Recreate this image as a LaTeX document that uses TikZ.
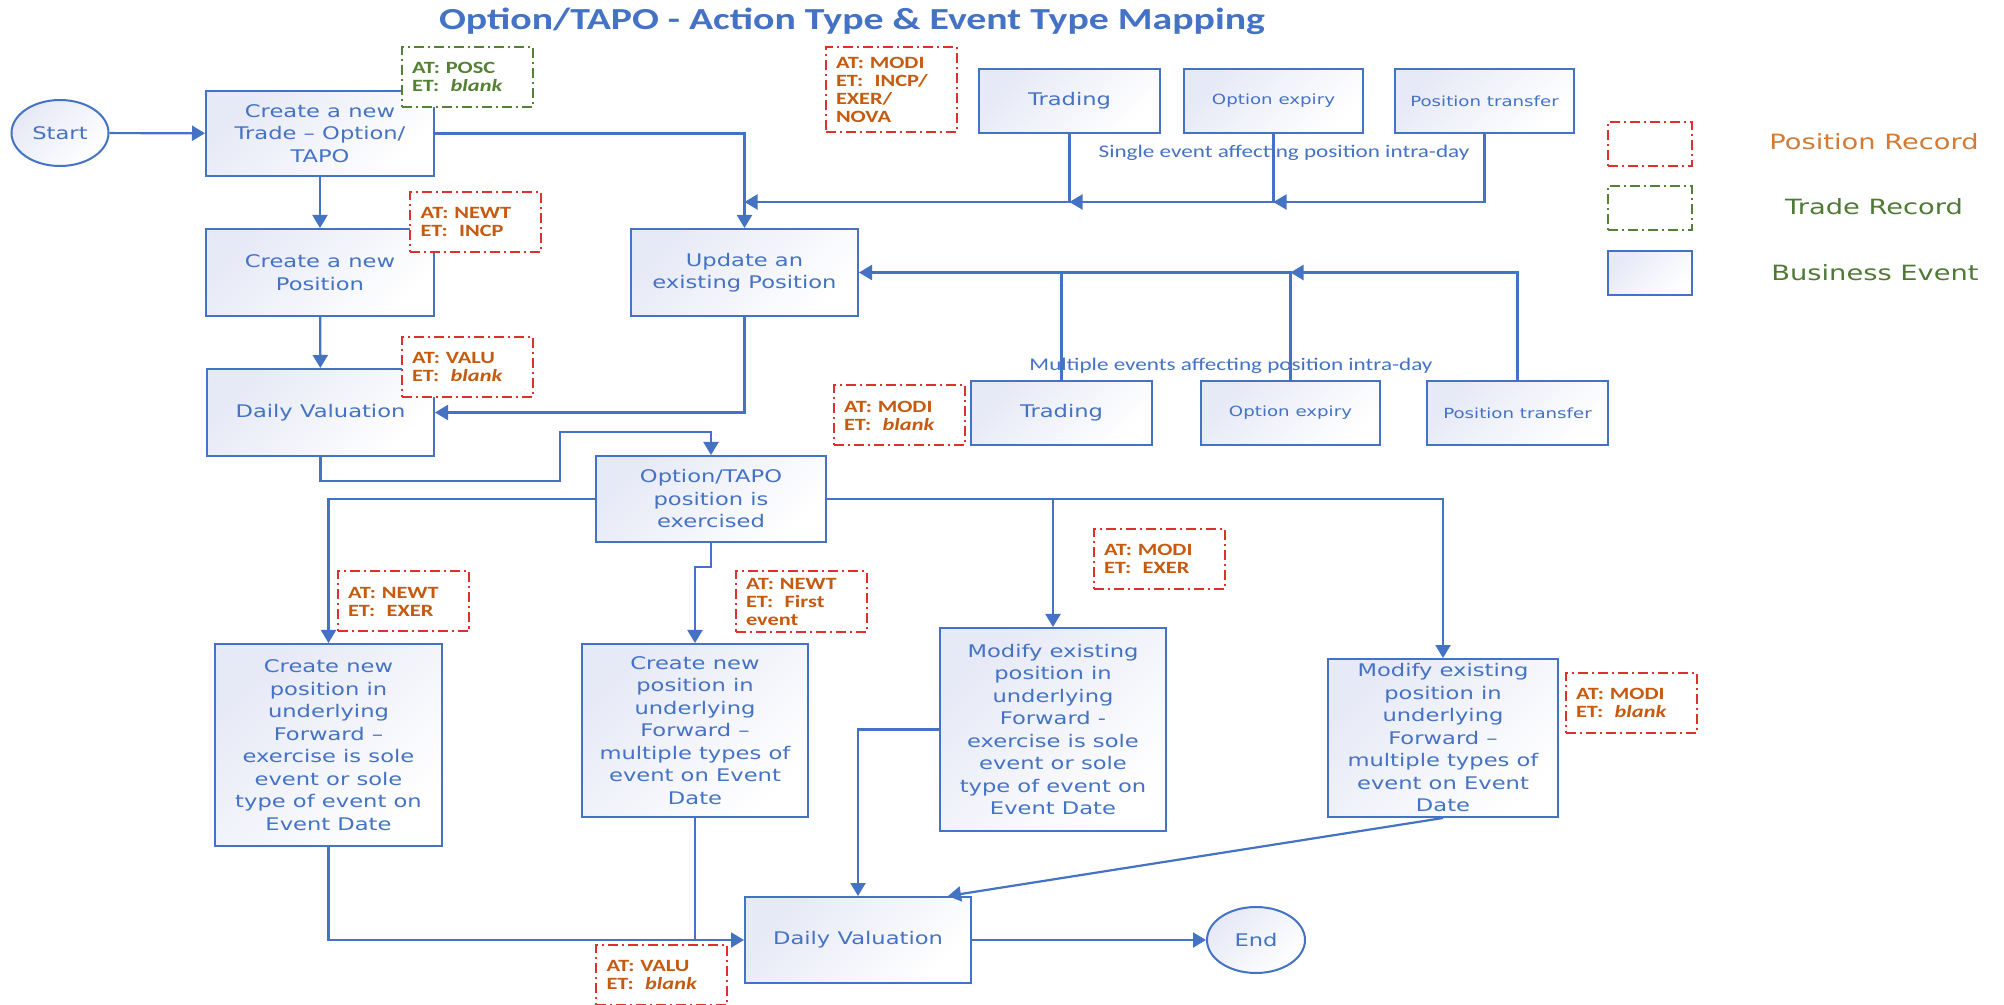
\documentclass[tikz,border=0pt]{standalone}
\usepackage{fontspec}
\usetikzlibrary{arrows.meta,shapes.geometric}
\newfontfamily\verd[FakeStretch=1.3]{DejaVu Sans}
\newfontfamily\calib[FakeStretch=1.3]{Carlito}
\definecolor{evblue}{HTML}{4472C4}
\definecolor{evfill}{HTML}{E6E9F6}
\definecolor{recred}{HTML}{E0302C}
\definecolor{recorange}{HTML}{C55A11}
\definecolor{legorange}{HTML}{D27A36}
\definecolor{recgreen}{HTML}{548235}
\definecolor{leggreen}{HTML}{4E7A35}

\begin{document}
\begin{tikzpicture}[x=0.5pt,y=-0.5pt,
  event/.style={draw=evblue,line width=1pt,top color=evfill,bottom color=white,
    shading angle=45,text=evblue,font=\verd\fontsize{8.7}{11.25}\selectfont,
    align=center,inner sep=1pt},
  smallev/.style={event,font=\verd\fontsize{7}{9}\selectfont},
  terminal/.style={event,ellipse,minimum width=48.5pt,minimum height=33pt},
  posrec/.style={draw=recred,fill=white,line width=1pt,
    dash pattern=on 5pt off 2pt on 1pt off 2pt,text=recorange,
    font=\calib\bfseries\fontsize{8.6}{9}\selectfont,align=left,
    text width=55pt,inner xsep=5.25pt,minimum height=30pt},
  traderec/.style={posrec,draw=recgreen,text=recgreen},
  arr/.style={draw=evblue,line width=1.1pt,-{Triangle[length=6.5pt,width=7.5pt]}},
  link/.style={draw=evblue,line width=1.1pt},
  note/.style={text=evblue,font=\calib\fontsize{8.9}{10}\selectfont}]

\useasboundingbox (0,0) rectangle (2004,1005);
\fill[white] (0,0) rectangle (2004,1005);

\node[font=\calib\bfseries\fontsize{15.3}{18}\selectfont,text=evblue] (title) at (852,21)
  {Option/TAPO - Action Type \& Event Type Mapping};

% first column
\node[terminal] (start) at (60,133) {Start};
\node[event,minimum width=114pt,minimum height=42.5pt] (trade) at (320,133.5)
  {Create a new\\Trade – Option/\\TAPO};
\node[event,minimum width=114pt,minimum height=43.5pt] (newpos) at (320,272.5)
  {Create a new\\Position};
\node[event,minimum width=113.5pt,minimum height=43.5pt] (dval1) at (320.5,412.5)
  {Daily Valuation};
\node[event,minimum width=113.5pt,minimum height=43.5pt] (update) at (744.5,272.5)
  {Update an\\existing Position};

% single event intra-day
\node[event,minimum width=90.5pt,minimum height=32pt] (trading1) at (1069.5,101) {Trading};
\node[smallev,minimum width=89.5pt,minimum height=32pt] (expiry1) at (1273.5,101) {Option expiry};
\node[smallev,minimum width=89.5pt,minimum height=32pt] (transfer1) at (1484.5,101) {Position transfer};
\node[note] (singlelbl) at (1284,153) {Single event affecting position intra-day};

% multiple events intra-day
\node[event,minimum width=90.5pt,minimum height=32pt] (trading2) at (1061.5,413) {Trading};
\node[smallev,minimum width=89.5pt,minimum height=32pt] (expiry2) at (1290.5,413) {Option expiry};
\node[smallev,minimum width=90.5pt,minimum height=32pt] (transfer2) at (1517.5,413) {Position transfer};
\node[note] (multilbl) at (1231,366) {Multiple events affecting position intra-day};

% exercise
\node[event,minimum width=115pt,minimum height=43pt] (exercised) at (711,499)
  {Option/TAPO\\position is\\exercised};
\node[event,minimum width=113.5pt,minimum height=101pt] (newfwd1) at (328.5,745)
  {Create new\\position in\\underlying\\Forward –\\exercise is sole\\event or sole\\type of event on\\Event Date};
\node[event,minimum width=113pt,minimum height=86.5pt] (newfwd2) at (695,730.5)
  {Create new\\position in\\underlying\\Forward –\\multiple types of\\event on Event\\Date};
\node[event,minimum width=113pt,minimum height=101.5pt] (modfwd1) at (1053,729.5)
  {Modify existing\\position in\\underlying\\Forward -\\exercise is sole\\event or sole\\type of event on\\Event Date};
\node[event,minimum width=115pt,minimum height=79pt] (modfwd2) at (1443,738)
  {Modify existing\\position in\\underlying\\Forward –\\multiple types of\\event on Event\\Date};
\node[event,minimum width=113pt,minimum height=43pt] (dval2) at (858,940) {Daily Valuation};
\node[terminal,minimum width=49pt] (end) at (1256,940) {End};

% connectors
\coordinate (single) at (745,202);
\draw[arr] (start) -- (trade);
\draw[arr] (trade) -- (newpos);
\draw[arr] (newpos) -- (dval1);
\draw[arr] (trade.east) -| (update.north);
\draw[arr] (trading1.south) |- (update.north |- single);
\draw[arr] (expiry1.south) |- (trading1.south |- single);
\draw[arr] (transfer1.south) |- (expiry1.south |- single);
\draw[arr] (expiry2.north) |- (update.east);
\draw[arr] (transfer2.north) |- (expiry2.north |- update.east);
\draw[link] (trading2.north) -- (trading2.north |- update.east);
\draw[arr] (update.south) |- (dval1.east);
\draw[arr] (dval1.south) -- ++(0,24) -| (560,432) -| (exercised.north);
\draw[arr] (exercised.west) -| (newfwd1.north);
\draw[arr] (exercised.south) -- ++(0,24) -| (newfwd2.north);
\draw[arr] (exercised.east) -| (modfwd2.north);
\draw[arr] (modfwd1.north |- exercised.east) -- (modfwd1.north);
\draw[arr] (newfwd1.south) |- (dval2.west);
\draw[link] (newfwd2.south) -- (newfwd2.south |- dval2.west);
\draw[arr] (modfwd1.west) -| (dval2.north);
\draw[arr] (modfwd2.south) -- ([xshift=-12pt]dval2.north east);
\draw[arr] (dval2) -- (end);

% action type / event type records
\node[traderec] (posc) at (467,77) {AT: POSC\\ET:~~\textit{blank}};
\node[posrec] (newtincp) at (475.5,222) {AT: NEWT\\ET:~~INCP};
\node[posrec,minimum height=42.5pt] (modiincp) at (891,89.5) {AT: MODI\\ET:~~INCP/\\EXER/\\NOVA};
\node[posrec] (valu1) at (467,367) {AT: VALU\\ET:~~\textit{blank}};
\node[posrec] (modiblank1) at (899,415.5) {AT: MODI\\ET:~~\textit{blank}};
\node[posrec] (newtexer) at (403,601.5) {AT: NEWT\\ET:~~EXER};
\node[posrec] (newtfirst) at (801,601.5) {AT: NEWT\\ET:~~First\\event};
\node[posrec] (modiexer) at (1159,559) {AT: MODI\\ET:~~EXER};
\node[posrec] (modiblank2) at (1631,703) {AT: MODI\\ET:~~\textit{blank}};
\node[posrec] (valu2) at (661.5,975) {AT: VALU\\ET:~~\textit{blank}};

% legend
\node[posrec,text width=31.5pt,minimum height=22pt] (legpos) at (1650,144) {};
\node[traderec,text width=31.5pt,minimum height=22pt] (legtrade) at (1650,208) {};
\node[event,minimum width=42pt,minimum height=22pt] (legevent) at (1650,273) {};
\node[font=\verd\fontsize{10.5}{12}\selectfont,text=legorange] (legpostext) at (1874,142) {Position Record};
\node[font=\verd\fontsize{10.5}{12}\selectfont,text=leggreen] (legtradetext) at (1874,207) {Trade Record};
\node[font=\verd\fontsize{10.5}{12}\selectfont,text=leggreen] (legeventtext) at (1875,273) {Business Event};

\end{tikzpicture}
\end{document}
